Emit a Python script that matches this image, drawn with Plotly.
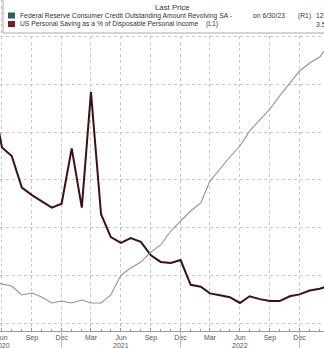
import plotly.graph_objects as go

months = ["2020-05-01","2020-06-01","2020-07-01","2020-08-01","2020-09-01","2020-10-01","2020-11-01","2020-12-01",
          "2021-01-01","2021-02-01","2021-03-01","2021-04-01","2021-05-01","2021-06-01","2021-07-01","2021-08-01",
          "2021-09-01","2021-10-01","2021-11-01","2021-12-01","2022-01-01","2022-02-01","2022-03-01","2022-04-01",
          "2022-05-01","2022-06-01","2022-07-01","2022-08-01","2022-09-01","2022-10-01","2022-11-01","2022-12-01",
          "2023-01-01","2023-02-01","2023-03-01"]

saving_rate = [24.0, 18.4, 17.5, 14.2, 13.4, 12.8, 12.1, 12.5,
               18.3, 12.1, 24.2, 11.4, 9.0, 8.4, 8.9, 8.5,
               7.1, 6.4, 6.3, 6.6, 4.0, 3.8, 3.1, 2.9,
               2.7, 2.1, 2.8, 2.5, 2.3, 2.3, 2.8, 3.0,
               3.4, 3.6, 3.9]

revolving_credit = [993.0, 990.9, 988.8, 979.4, 981.4, 977.3, 971.0, 973.1,
                    971.0, 974.1, 971.0, 971.0, 979.4, 1000.3, 1007.7, 1013.9,
                    1024.4, 1031.8, 1046.4, 1056.9, 1067.4, 1075.8, 1098.8, 1111.4,
                    1124.0, 1135.5, 1151.3, 1162.8, 1174.3, 1188.0, 1201.6, 1214.2,
                    1222.5, 1228.8, 1241.4]

tick_dates = ["2020-06-01","2020-09-01","2020-12-01","2021-03-01","2021-06-01","2021-09-01","2021-12-01",
              "2022-03-01","2022-06-01","2022-09-01","2022-12-01"]
tick_text = ["Jun","Sep","Dec","Mar","Jun","Sep","Dec","Mar","Jun","Sep","Dec"]
year_dates = ["2020-06-01", "2021-06-01", "2022-06-01"]
year_text = ["2020", "2021", "2022"]
year_sep_dates = ["2020-12-01", "2021-12-01", "2022-12-01"]

legend_title = "Last Price"
credit_name = "Federal Reserve Consumer Credit Outstanding Amount Revolving SA -"
credit_tail = "on 6/30/23"
credit_axis = "(R1)"
credit_last = "1262"
saving_name = "US Personal Saving as a % of Disposable Personal Income"
saving_axis = "(L1)"
saving_last = "3.5"

W, H = 324, 348
MT, MB = 0, 17
PH = H - MT - MB

def px(x):
    return x / W

def py(y):
    return 1 - (y - MT) / PH

FONT = "Liberation Sans, Arial, sans-serif"
GRAY_LINE = "#8b9696"
MAROON = "#3d1016"
GRID = "#c6c6c6"

fig = go.Figure()
fig.add_trace(go.Scatter(x=months, y=revolving_credit, mode="lines", yaxis="y2",
                         line=dict(color=GRAY_LINE, width=1.1), showlegend=False))
fig.add_trace(go.Scatter(x=months, y=saving_rate, mode="lines", yaxis="y",
                         line=dict(color=MAROON, width=2), showlegend=False))

fig.update_layout(
    width=W, height=H,
    margin=dict(l=0, r=0, t=MT, b=MB, pad=0, autoexpand=False),
    paper_bgcolor="white", plot_bgcolor="white",
    font=dict(family=FONT, size=8, color="#444"),
    xaxis=dict(
        type="date", range=["2020-05-26", "2023-02-14"], automargin=False,
        tickvals=tick_dates, ticktext=tick_text,
        tickfont=dict(size=7, color="#555", family=FONT),
        ticklabeloverflow="allow",
        showgrid=True, gridcolor=GRID, griddash="dot", gridwidth=1,
        showline=True, linecolor="#9a9a9a", linewidth=1,
        ticks="inside", ticklen=3, tickcolor="#9a9a9a",
        minor=dict(dtick="M1", tick0="2020-06-01", ticks="inside", ticklen=2, tickcolor="#9a9a9a", showgrid=False),
        zeroline=False, ticklabelstandoff=0,
    ),
    yaxis=dict(
        range=[(323 - 331) / 9.54, 323 / 9.54], dtick=5, tick0=0, automargin=False,
        showgrid=True, gridcolor=GRID, griddash="dot", gridwidth=1,
        showticklabels=False, zeroline=False, ticks="",
    ),
    yaxis2=dict(
        overlaying="y", side="right", automargin=False,
        range=[950 - (331 - 323) / 0.954, 950 + 323 / 0.954],
        showgrid=False, showticklabels=False, zeroline=False, ticks="",
    ),
)

# year separators below the axis
for d in year_sep_dates:
    fig.add_shape(type="line", xref="x", yref="paper", x0=d, x1=d, y0=0, y1=-MB / PH,
                  line=dict(color="#bbbbbb", width=1))

# year labels
for d, t in zip(year_dates, year_text):
    fig.add_annotation(text=t, xref="x", yref="paper", x=d, y=py(345),
                       xanchor="center", yanchor="middle", showarrow=False,
                       font=dict(family=FONT, size=7, color="#555"))

# legend box
fig.add_shape(type="rect", xref="paper", yref="paper",
              x0=px(3), x1=px(340), y0=py(33), y1=py(-5),
              fillcolor="white", line=dict(color="#aaaaaa", width=1), layer="above")
fig.add_shape(type="rect", xref="paper", yref="paper",
              x0=px(8), x1=px(15), y0=py(18.5), y1=py(12.5),
              fillcolor="#2e5c6b", line=dict(width=0), layer="above")
fig.add_shape(type="rect", xref="paper", yref="paper",
              x0=px(8), x1=px(15), y0=py(27), y1=py(21),
              fillcolor="#7a1c2a", line=dict(width=0), layer="above")

def label(text, x, y, anchor="left", size=6.75):
    fig.add_annotation(text=text, xref="paper", yref="paper", x=px(x), y=py(y),
                       xanchor=anchor, yanchor="middle", showarrow=False,
                       font=dict(family=FONT, size=size, color="#333"))

label(legend_title, 172, 7.5, "center", 7.8)
label(credit_name, 17.5, 15.5)
label(credit_tail, 251, 15.5)
label(credit_axis, 296, 15.5)
label(credit_last, 314, 15.5)
label(saving_name, 17.5, 24.5)
label(saving_axis, 204, 24.5)
label(saving_last, 314, 24.5)

fig.write_html("out.html")
